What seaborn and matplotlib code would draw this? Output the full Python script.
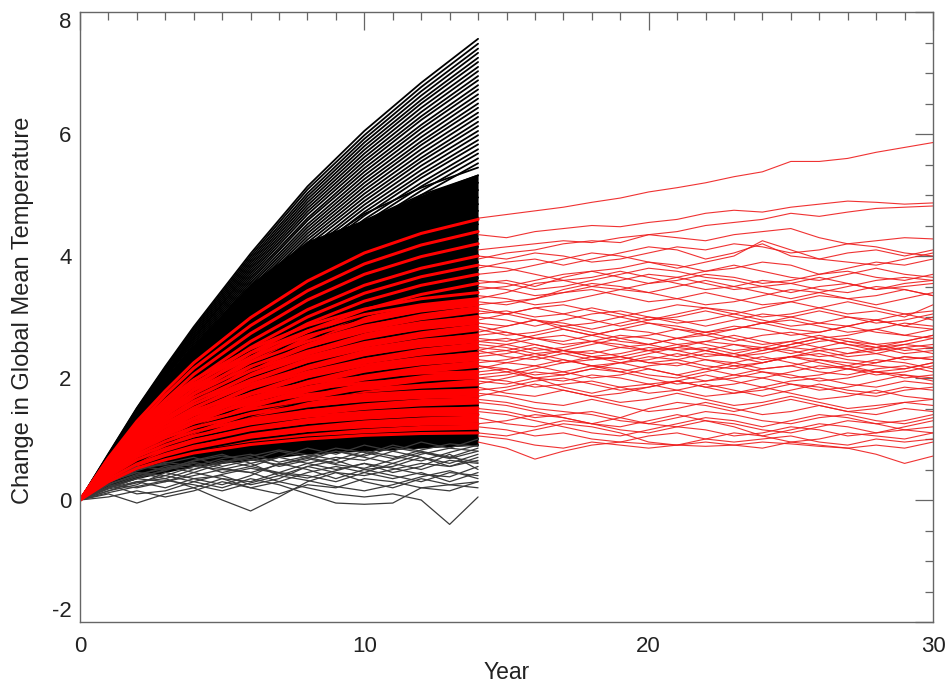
import numpy as np
import pandas as pd
import seaborn as sns
import matplotlib.pyplot as plt
from matplotlib.ticker import MultipleLocator

# years sampled for the first 14-year runs
LEFT_YEARS = [0, 1, 2, 3, 4, 6, 8, 10, 12, 14]
WIGGLE_YEARS = list(range(0, 15))
RIGHT_YEARS = list(range(14, 31))

# edges of the solid black band in the fan
black_core_upper = [0, .70, 1.38, 2.00, 2.55, 3.55, 4.25, 4.60, 5.00, 5.35]
black_core_lower = [0, .20, .35, .45, .55, .65, .75, .80, .85, .90]

# edges of the solid red band
red_core_upper = [0, .60, 1.10, 1.50, 1.85, 2.40, 2.80, 3.05, 3.20, 3.30]
red_core_lower = [0, .32, .55, .70, .82, .96, 1.05, 1.10, 1.14, 1.16]

black_smooth = [
    [0, .76, 1.51, 2.19, 2.84, 4.04, 5.14, 6.05, 6.84, 7.56],
    [0, .75, 1.50, 2.17, 2.81, 4.00, 5.09, 5.98, 6.77, 7.48],
    [0, .74, 1.48, 2.15, 2.78, 3.96, 5.03, 5.92, 6.70, 7.40],
    [0, .73, 1.47, 2.13, 2.75, 3.92, 4.98, 5.86, 6.63, 7.33],
    [0, .73, 1.45, 2.10, 2.72, 3.88, 4.93, 5.80, 6.56, 7.25],
    [0, .72, 1.44, 2.08, 2.69, 3.84, 4.88, 5.74, 6.50, 7.18],
    [0, .71, 1.42, 2.06, 2.66, 3.80, 4.83, 5.68, 6.43, 7.10],
    [0, .70, 1.41, 2.04, 2.64, 3.76, 4.78, 5.62, 6.36, 7.03],
    [0, .70, 1.39, 2.02, 2.61, 3.72, 4.73, 5.56, 6.29, 6.95],
    [0, .69, 1.38, 2.00, 2.58, 3.68, 4.68, 5.50, 6.23, 6.88],
    [0, .68, 1.36, 1.97, 2.55, 3.64, 4.62, 5.44, 6.15, 6.80],
    [0, .67, 1.35, 1.95, 2.52, 3.60, 4.58, 5.38, 6.09, 6.73],
    [0, .67, 1.33, 1.93, 2.49, 3.56, 4.52, 5.32, 6.02, 6.65],
    [0, .66, 1.32, 1.91, 2.47, 3.52, 4.47, 5.26, 5.95, 6.58],
    [0, .65, 1.30, 1.89, 2.44, 3.48, 4.42, 5.20, 5.88, 6.50],
    [0, .64, 1.29, 1.86, 2.41, 3.44, 4.37, 5.14, 5.82, 6.43],
    [0, .64, 1.27, 1.84, 2.38, 3.40, 4.32, 5.08, 5.75, 6.35],
    [0, .63, 1.26, 1.82, 2.36, 3.36, 4.27, 5.02, 5.68, 6.28],
    [0, .62, 1.24, 1.80, 2.33, 3.32, 4.22, 4.96, 5.61, 6.20],
    [0, .61, 1.23, 1.78, 2.30, 3.28, 4.17, 4.90, 5.55, 6.13],
    [0, .61, 1.21, 1.75, 2.27, 3.24, 4.11, 4.84, 5.48, 6.05],
    [0, .60, 1.20, 1.73, 2.24, 3.20, 4.07, 4.78, 5.41, 5.98],
    [0, .59, 1.18, 1.71, 2.21, 3.16, 4.01, 4.72, 5.34, 5.90],
    [0, .58, 1.17, 1.69, 2.19, 3.12, 3.96, 4.66, 5.28, 5.83],
    [0, .58, 1.15, 1.67, 2.16, 3.08, 3.91, 4.60, 5.20, 5.75],
    [0, .57, 1.14, 1.65, 2.13, 3.04, 3.86, 4.54, 5.14, 5.68],
    [0, .56, 1.12, 1.62, 2.10, 3.00, 3.81, 4.48, 5.07, 5.60],
    [0, .55, 1.10, 1.60, 2.07, 2.95, 3.75, 4.42, 5.00, 5.52],
    [0, .71, 1.36, 1.93, 2.45, 3.32, 4.06, 4.69, 5.12, 5.45],
    [0, .69, 1.33, 1.89, 2.39, 3.25, 3.96, 4.58, 5.00, 5.32],
    [0, .68, 1.30, 1.85, 2.34, 3.17, 3.87, 4.47, 4.89, 5.20],
    [0, .66, 1.27, 1.80, 2.29, 3.10, 3.78, 4.37, 4.78, 5.08],
    [0, .64, 1.24, 1.76, 2.23, 3.03, 3.70, 4.27, 4.66, 4.96],
    [0, .63, 1.21, 1.72, 2.18, 2.96, 3.61, 4.17, 4.56, 4.85],
    [0, .62, 1.19, 1.68, 2.13, 2.89, 3.53, 4.08, 4.46, 4.74],
    [0, .60, 1.16, 1.64, 2.08, 2.82, 3.45, 3.98, 4.35, 4.63],
    [0, .59, 1.13, 1.60, 2.03, 2.76, 3.37, 3.89, 4.25, 4.52],
    [0, .57, 1.10, 1.56, 1.98, 2.68, 3.28, 3.78, 4.14, 4.40],
    [0, .56, 1.07, 1.52, 1.93, 2.61, 3.19, 3.68, 4.02, 4.28],
    [0, .54, 1.04, 1.47, 1.87, 2.53, 3.09, 3.57, 3.90, 4.15],
    [0, .52, 1.01, 1.43, 1.81, 2.45, 2.99, 3.46, 3.78, 4.02],
    [0, .51, .98, 1.38, 1.76, 2.38, 2.91, 3.35, 3.67, 3.90],
    [0, .49, .94, 1.34, 1.70, 2.30, 2.81, 3.24, 3.54, 3.77],
    [0, .47, .91, 1.29, 1.64, 2.22, 2.71, 3.13, 3.42, 3.64],
    [0, .46, .88, 1.24, 1.58, 2.14, 2.61, 3.01, 3.29, 3.50],
    [0, .57, 1.04, 1.44, 1.78, 2.31, 2.71, 3.02, 3.22, 3.35],
    [0, .54, .99, 1.38, 1.70, 2.21, 2.59, 2.88, 3.07, 3.20],
    [0, .52, .95, 1.31, 1.62, 2.10, 2.47, 2.75, 2.93, 3.05],
    [0, .49, .90, 1.25, 1.54, 2.00, 2.35, 2.61, 2.78, 2.90],
    [0, .47, .85, 1.18, 1.46, 1.90, 2.23, 2.48, 2.64, 2.75],
    [0, .44, .81, 1.12, 1.38, 1.79, 2.11, 2.34, 2.50, 2.60],
    [0, .42, .76, 1.05, 1.30, 1.69, 1.98, 2.21, 2.35, 2.45],
    [0, .39, .71, .99, 1.22, 1.59, 1.86, 2.07, 2.21, 2.30],
    [0, .37, .67, .92, 1.14, 1.48, 1.74, 1.94, 2.06, 2.15],
    [0, .34, .62, .86, 1.06, 1.38, 1.62, 1.80, 1.92, 2.00],
    [0, .44, .78, 1.02, 1.20, 1.46, 1.63, 1.74, 1.81, 1.85],
    [0, .41, .71, .94, 1.11, 1.34, 1.50, 1.60, 1.67, 1.70],
    [0, .37, .65, .85, 1.01, 1.22, 1.36, 1.46, 1.52, 1.55],
    [0, .34, .59, .77, .91, 1.11, 1.23, 1.32, 1.37, 1.40],
    [0, .30, .53, .69, .81, .99, 1.10, 1.18, 1.23, 1.25],
    [0, .27, .47, .62, .73, .88, .99, 1.05, 1.10, 1.12],
    [0, .24, .42, .55, .65, .79, .88, .94, .98, 1.00],
    [0, .22, .38, .50, .59, .71, .79, .85, .88, .90],
]

# black ensemble, noisy low members
black_wiggly = [
    [0, .15, .30, .35, .20, .00, -.18, .05, .30, .45, .40, .50, .60, .55, .70],
    [0, .20, .35, .30, .40, .50, .45, .30, .20, .10, .05, .10, .00, -.40, .05],
    [0, .25, .10, .15, .30, .20, .35, .25, .10, -.05, -.07, -.05, .20, .25, .30],
    [0, .10, -.05, .10, .20, .35, .30, .45, .40, .30, .45, .60, .50, .65, .60],
    [0, .30, .45, .40, .55, .50, .60, .40, .55, .65, .50, .55, .70, .60, .75],
    [0, .25, .40, .55, .45, .60, .70, .55, .65, .80, .70, .60, .75, .85, .80],
    [0, .20, .30, .20, .35, .25, .40, .60, .50, .35, .50, .40, .30, .45, .40],
    [0, .30, .50, .60, .70, .55, .65, .80, .70, .60, .75, .90, .80, .70, .85],
    [0, .15, .25, .45, .35, .40, .25, .35, .55, .45, .30, .20, .35, .25, .20],
    [0, .35, .55, .50, .65, .75, .60, .70, .85, .75, .90, .80, .95, .85, 1.00],
    [0, .05, .15, .05, .15, .30, .20, .10, .25, .20, .35, .30, .20, .15, .30],
    [0, .30, .45, .35, .50, .65, .55, .45, .60, .70, .65, .80, .70, .55, .65],
    [0, .20, .35, .50, .60, .45, .55, .70, .60, .50, .60, .45, .55, .75, .50],
    [0, .25, .20, .30, .45, .35, .20, .30, .45, .55, .45, .35, .45, .30, .45],
    [0, .28, .48, .62, .55, .68, .75, .62, .72, .85, .78, .68, .82, .92, .88],
    [0, .22, .38, .48, .62, .52, .45, .58, .68, .58, .52, .66, .78, .70, .62],
    [0, .32, .52, .58, .50, .62, .72, .82, .74, .66, .80, .72, .64, .78, .90],
    [0, .18, .28, .40, .30, .42, .52, .44, .36, .48, .60, .52, .42, .38, .55],
    [0, .26, .42, .52, .64, .72, .66, .58, .70, .80, .72, .86, .78, .68, .80],
    [0, .12, .22, .32, .25, .15, .28, .40, .32, .22, .15, .25, .38, .48, .35],
]

# red ensemble over the first 14 years
red_left = [
    [0, .69, 1.29, 1.79, 2.25, 2.99, 3.59, 4.05, 4.37, 4.60],
    [0, .66, 1.23, 1.72, 2.16, 2.86, 3.43, 3.87, 4.18, 4.40],
    [0, .63, 1.18, 1.64, 2.06, 2.73, 3.28, 3.70, 3.99, 4.20],
    [0, .60, 1.12, 1.56, 1.96, 2.60, 3.12, 3.52, 3.80, 4.00],
    [0, .58, 1.08, 1.50, 1.89, 2.50, 3.00, 3.39, 3.66, 3.85],
    [0, .56, 1.04, 1.44, 1.81, 2.41, 2.89, 3.26, 3.52, 3.70],
    [0, .53, .99, 1.38, 1.74, 2.31, 2.77, 3.12, 3.37, 3.55],
    [0, .68, 1.22, 1.63, 1.97, 2.48, 2.86, 3.13, 3.30, 3.40],
    [0, .66, 1.19, 1.58, 1.91, 2.41, 2.77, 3.04, 3.20, 3.30],
    [0, .64, 1.15, 1.54, 1.86, 2.34, 2.69, 2.94, 3.10, 3.20],
    [0, .62, 1.12, 1.49, 1.80, 2.26, 2.60, 2.85, 3.01, 3.10],
    [0, .60, 1.08, 1.44, 1.74, 2.19, 2.52, 2.76, 2.91, 3.00],
    [0, .58, 1.04, 1.39, 1.68, 2.12, 2.44, 2.67, 2.81, 2.90],
    [0, .56, 1.01, 1.34, 1.62, 2.04, 2.35, 2.58, 2.72, 2.80],
    [0, .54, .97, 1.30, 1.57, 1.97, 2.27, 2.48, 2.62, 2.70],
    [0, .52, .94, 1.25, 1.51, 1.90, 2.18, 2.39, 2.52, 2.60],
    [0, .50, .90, 1.20, 1.45, 1.83, 2.10, 2.30, 2.43, 2.50],
    [0, .48, .86, 1.15, 1.39, 1.75, 2.02, 2.21, 2.33, 2.40],
    [0, .46, .83, 1.10, 1.33, 1.68, 1.93, 2.12, 2.23, 2.30],
    [0, .44, .79, 1.06, 1.28, 1.61, 1.85, 2.02, 2.13, 2.20],
    [0, .57, .99, 1.26, 1.47, 1.74, 1.91, 2.02, 2.08, 2.10],
    [0, .54, .94, 1.20, 1.40, 1.66, 1.82, 1.92, 1.98, 2.00],
    [0, .51, .89, 1.14, 1.33, 1.58, 1.73, 1.82, 1.88, 1.90],
    [0, .49, .85, 1.08, 1.26, 1.49, 1.64, 1.73, 1.78, 1.80],
    [0, .46, .80, 1.02, 1.19, 1.41, 1.55, 1.63, 1.68, 1.70],
    [0, .43, .75, .96, 1.12, 1.33, 1.46, 1.54, 1.58, 1.60],
    [0, .41, .71, .90, 1.05, 1.25, 1.37, 1.44, 1.49, 1.50],
    [0, .38, .66, .84, .98, 1.16, 1.27, 1.34, 1.39, 1.40],
    [0, .34, .59, .75, .88, 1.04, 1.14, 1.20, 1.24, 1.25],
    [0, .30, .52, .66, .77, .91, 1.00, 1.06, 1.09, 1.10],
]

# red ensemble continued from year 14 to 30
red_right = [
    [4.62, 4.68, 4.74, 4.80, 4.88, 4.95, 5.05, 5.12, 5.20, 5.30, 5.38, 5.55, 5.55, 5.60, 5.70, 5.78, 5.86],
    [4.35, 4.30, 4.40, 4.45, 4.50, 4.48, 4.55, 4.60, 4.70, 4.75, 4.72, 4.80, 4.85, 4.90, 4.88, 4.85, 4.87],
    [3.95, 4.05, 4.10, 4.20, 4.25, 4.22, 4.35, 4.40, 4.50, 4.55, 4.60, 4.70, 4.65, 4.72, 4.78, 4.80, 4.82],
    [4.10, 4.15, 4.20, 4.25, 4.22, 4.30, 4.35, 4.30, 4.25, 4.35, 4.40, 4.45, 4.30, 4.20, 4.25, 4.30, 4.28],
    [3.80, 3.90, 3.95, 3.85, 3.95, 4.05, 4.15, 4.10, 3.95, 4.05, 4.20, 4.00, 3.95, 4.05, 4.10, 4.00, 4.10],
    [3.70, 3.75, 3.85, 3.95, 4.05, 4.00, 3.90, 3.80, 3.90, 4.00, 4.25, 4.10, 3.95, 3.90, 3.85, 3.95, 4.05],
    [3.55, 3.60, 3.50, 3.65, 3.75, 3.80, 3.90, 3.85, 3.75, 3.80, 3.90, 3.85, 3.70, 3.80, 3.90, 3.85, 3.95],
    [3.45, 3.50, 3.60, 3.70, 3.75, 3.65, 3.55, 3.60, 3.70, 3.65, 3.55, 3.60, 3.70, 3.75, 3.65, 3.60, 3.70],
    [3.30, 3.40, 3.55, 3.60, 3.50, 3.45, 3.55, 3.65, 3.55, 3.45, 3.50, 3.40, 3.50, 3.55, 3.45, 3.55, 3.60],
    [3.20, 3.25, 3.30, 3.40, 3.45, 3.35, 3.25, 3.30, 3.40, 3.30, 3.20, 3.25, 3.35, 3.30, 3.20, 3.30, 3.40],
    [3.10, 3.05, 3.15, 3.20, 3.10, 3.00, 3.10, 3.20, 3.15, 3.05, 3.15, 3.25, 3.15, 3.05, 3.10, 3.00, 3.20],
    [3.00, 2.95, 2.85, 2.95, 3.05, 3.10, 3.00, 2.90, 2.95, 3.05, 2.95, 2.85, 2.90, 3.00, 2.95, 2.85, 3.00],
    [2.90, 2.85, 2.95, 2.80, 2.70, 2.80, 2.90, 2.85, 2.75, 2.80, 2.90, 2.95, 2.85, 2.75, 2.80, 2.90, 2.85],
    [2.80, 2.70, 2.75, 2.85, 2.75, 2.65, 2.70, 2.80, 2.70, 2.60, 2.70, 2.75, 2.65, 2.70, 2.80, 2.70, 2.65],
    [2.70, 2.75, 2.65, 2.55, 2.60, 2.70, 2.65, 2.55, 2.60, 2.70, 2.60, 2.50, 2.60, 2.65, 2.55, 2.60, 2.70],
    [2.60, 2.55, 2.45, 2.50, 2.60, 2.55, 2.45, 2.50, 2.60, 2.55, 2.45, 2.55, 2.65, 2.55, 2.45, 2.50, 2.55],
    [2.50, 2.45, 2.55, 2.45, 2.35, 2.40, 2.50, 2.45, 2.35, 2.40, 2.50, 2.45, 2.35, 2.40, 2.50, 2.40, 2.45],
    [2.45, 2.35, 2.30, 2.40, 2.45, 2.35, 2.25, 2.30, 2.40, 2.35, 2.25, 2.35, 2.40, 2.30, 2.25, 2.35, 2.30],
    [2.40, 2.45, 2.35, 2.25, 2.30, 2.35, 2.25, 2.20, 2.30, 2.25, 2.15, 2.20, 2.30, 2.25, 2.20, 2.15, 2.25],
    [2.30, 2.25, 2.20, 2.30, 2.20, 2.10, 2.20, 2.25, 2.15, 2.05, 2.15, 2.20, 2.10, 2.05, 2.15, 2.20, 2.10],
    [2.20, 2.15, 2.05, 2.10, 2.20, 2.15, 2.05, 2.00, 2.10, 2.20, 2.10, 2.00, 2.05, 2.15, 2.10, 2.00, 2.05],
    [2.10, 2.15, 2.00, 1.95, 2.05, 2.00, 1.90, 1.95, 2.05, 1.95, 1.85, 1.95, 2.00, 1.90, 1.85, 1.95, 1.90],
    [2.00, 1.95, 1.85, 1.90, 1.95, 1.85, 1.75, 1.80, 1.90, 1.80, 1.70, 1.80, 1.90, 1.80, 1.75, 1.85, 1.80],
    [1.95, 1.90, 2.00, 1.85, 1.75, 1.85, 1.90, 1.80, 1.70, 1.75, 1.85, 1.75, 1.65, 1.70, 1.80, 1.70, 1.65],
    [1.85, 1.75, 1.70, 1.80, 1.70, 1.60, 1.65, 1.75, 1.65, 1.55, 1.60, 1.70, 1.60, 1.50, 1.55, 1.60, 1.55],
    [1.75, 1.70, 1.60, 1.55, 1.65, 1.55, 1.45, 1.50, 1.60, 1.50, 1.40, 1.45, 1.55, 1.45, 1.40, 1.50, 1.45],
    [1.65, 1.60, 1.50, 1.45, 1.40, 1.30, 1.25, 1.35, 1.45, 1.40, 1.30, 1.25, 1.35, 1.40, 1.30, 1.25, 1.35],
    [1.50, 1.45, 1.35, 1.40, 1.45, 1.35, 1.25, 1.20, 1.30, 1.25, 1.15, 1.10, 1.20, 1.30, 1.25, 1.15, 1.20],
    [1.35, 1.25, 1.20, 1.30, 1.25, 1.15, 1.10, 1.20, 1.15, 1.05, 1.10, 1.20, 1.15, 1.05, 1.10, 1.15, 1.10],
    [1.20, 1.15, 1.05, 1.10, 1.00, 0.95, 1.05, 1.10, 1.00, 0.95, 1.00, 1.05, 0.95, 0.90, 1.00, 0.95, 1.00],
    [1.05, 1.00, 0.90, 0.85, 0.95, 0.90, 0.85, 0.90, 0.95, 0.90, 0.85, 0.95, 0.90, 0.85, 0.90, 0.85, 0.95],
    [0.95, 0.85, 0.67, 0.80, 0.90, 0.95, 0.92, 0.90, 0.88, 0.90, 0.95, 0.92, 0.88, 0.85, 0.75, 0.60, 0.72],
    [2.65, 2.60, 2.70, 2.80, 2.70, 2.60, 2.55, 2.65, 2.75, 2.65, 2.55, 2.60, 2.70, 2.60, 2.50, 2.55, 2.65],
    [2.35, 2.40, 2.50, 2.40, 2.30, 2.35, 2.45, 2.55, 2.45, 2.35, 2.40, 2.50, 2.45, 2.35, 2.40, 2.50, 2.40],
    [2.55, 2.50, 2.40, 2.45, 2.55, 2.65, 2.55, 2.45, 2.50, 2.40, 2.30, 2.35, 2.45, 2.50, 2.40, 2.30, 2.35],
    [2.25, 2.30, 2.40, 2.30, 2.20, 2.25, 2.35, 2.30, 2.20, 2.15, 2.25, 2.35, 2.25, 2.15, 2.25, 2.35, 2.30],
    [3.05, 3.10, 3.00, 3.05, 3.15, 3.05, 2.95, 3.00, 3.10, 3.00, 2.90, 3.00, 3.10, 3.00, 2.90, 2.95, 3.05],
    [2.05, 2.10, 2.20, 2.10, 2.00, 2.05, 2.15, 2.05, 1.95, 2.00, 2.10, 2.05, 1.95, 2.00, 2.10, 2.05, 2.00],
    [3.60, 3.55, 3.45, 3.50, 3.60, 3.70, 3.80, 3.75, 3.65, 3.60, 3.50, 3.55, 3.65, 3.55, 3.45, 3.50, 3.55],
    [1.80, 1.85, 1.95, 2.00, 1.90, 1.80, 1.85, 1.95, 1.85, 1.75, 1.80, 1.90, 1.85, 1.75, 1.70, 1.80, 1.85],
    [3.35, 3.30, 3.20, 3.25, 3.35, 3.45, 3.40, 3.30, 3.20, 3.25, 3.35, 3.45, 3.40, 3.30, 3.35, 3.45, 3.35],
    [2.95, 3.05, 3.15, 3.05, 2.95, 2.85, 2.95, 3.05, 3.15, 3.10, 3.00, 3.05, 3.15, 3.25, 3.15, 3.05, 3.10],
    [2.75, 2.85, 2.95, 2.90, 2.80, 2.90, 3.00, 2.95, 2.85, 2.95, 3.05, 3.00, 2.90, 2.85, 2.95, 3.05, 2.95],
    [2.85, 2.75, 2.65, 2.70, 2.60, 2.50, 2.55, 2.65, 2.55, 2.45, 2.50, 2.60, 2.50, 2.40, 2.45, 2.55, 2.50],
    [2.15, 2.25, 2.35, 2.45, 2.40, 2.50, 2.45, 2.35, 2.45, 2.55, 2.50, 2.40, 2.50, 2.60, 2.55, 2.45, 2.50],
    [1.90, 2.00, 2.10, 2.05, 2.15, 2.25, 2.15, 2.05, 2.15, 2.25, 2.35, 2.25, 2.15, 2.20, 2.30, 2.25, 2.15],
    [1.70, 1.80, 1.90, 1.80, 1.70, 1.75, 1.85, 1.95, 1.85, 1.90, 2.00, 1.90, 1.80, 1.85, 1.95, 2.05, 1.95],
    [1.60, 1.55, 1.45, 1.35, 1.25, 1.35, 1.50, 1.60, 1.55, 1.45, 1.55, 1.65, 1.55, 1.45, 1.50, 1.60, 1.65],
    [1.45, 1.40, 1.30, 1.20, 1.10, 1.05, 1.15, 1.25, 1.35, 1.30, 1.20, 1.30, 1.40, 1.35, 1.25, 1.30, 1.40],
    [1.25, 1.30, 1.40, 1.35, 1.25, 1.20, 1.30, 1.40, 1.30, 1.20, 1.05, 1.15, 1.25, 1.20, 1.10, 1.20, 1.30],
    [3.25, 3.20, 3.30, 3.45, 3.55, 3.50, 3.40, 3.50, 3.60, 3.50, 3.40, 3.30, 3.40, 3.50, 3.60, 3.65, 3.60],
    [3.50, 3.45, 3.35, 3.40, 3.50, 3.60, 3.70, 3.65, 3.75, 3.85, 3.75, 3.65, 3.60, 3.70, 3.80, 3.70, 3.65],
    [4.00, 3.95, 4.05, 4.00, 3.90, 3.95, 4.05, 4.15, 4.10, 4.20, 4.15, 4.05, 4.10, 4.20, 4.15, 4.05, 4.00],
    [2.45, 2.55, 2.65, 2.60, 2.70, 2.80, 2.75, 2.65, 2.70, 2.80, 2.90, 2.80, 2.75, 2.85, 2.95, 2.85, 2.80],
    [2.20, 2.10, 2.00, 2.05, 2.15, 2.10, 2.00, 1.90, 1.95, 2.05, 2.00, 2.10, 2.20, 2.15, 2.05, 2.10, 2.20],
    [2.60, 2.65, 2.55, 2.45, 2.35, 2.25, 2.30, 2.40, 2.30, 2.20, 2.25, 2.35, 2.30, 2.20, 2.10, 2.15, 2.25],
    [2.00, 2.05, 2.15, 2.25, 2.35, 2.30, 2.40, 2.50, 2.45, 2.35, 2.45, 2.55, 2.65, 2.55, 2.50, 2.60, 2.70],
    [3.15, 3.05, 2.95, 2.85, 2.90, 3.00, 2.90, 2.80, 2.75, 2.85, 2.80, 2.70, 2.75, 2.85, 2.75, 2.70, 2.80],
    [1.10, 1.05, 1.15, 1.25, 1.20, 1.10, 0.95, 0.90, 1.00, 1.10, 1.05, 0.95, 1.00, 1.10, 1.05, 1.00, 1.10],
    [3.85, 3.80, 3.70, 3.60, 3.65, 3.75, 3.65, 3.55, 3.45, 3.50, 3.60, 3.55, 3.45, 3.40, 3.50, 3.45, 3.35],
]


def to_long(runs, years):
    # stack a list of runs into one long table for seaborn
    frames = []
    for i, vals in enumerate(runs):
        frames.append(pd.DataFrame({"Year": years, "dT": vals, "run": i}))
    return pd.concat(frames, ignore_index=True)


def main():
    sns.set_style("white")
    plt.rcParams["font.family"] = ["Liberation Sans", "DejaVu Sans"]
    plt.rcParams["axes.unicode_minus"] = False

    fig = plt.figure(figsize=(9.51, 6.85), dpi=100)
    ax = fig.add_axes([80 / 951, 63 / 685, 853 / 951, 610 / 685])

    # the runs overlap so much that the middle of each fan reads as solid
    ax.fill_between(LEFT_YEARS, black_core_lower, black_core_upper, color="black", lw=0)

    kw = dict(x="Year", y="dT", units="run", estimator=None, ax=ax, legend=False)
    sns.lineplot(data=to_long(black_smooth, LEFT_YEARS), color="black", lw=1.3, **kw)
    sns.lineplot(data=to_long(black_wiggly, WIGGLE_YEARS), color="#3a3a3a", lw=0.9, **kw)
    ax.fill_between(LEFT_YEARS, red_core_lower, red_core_upper, color="#ff0000", lw=0)
    sns.lineplot(data=to_long(red_left, LEFT_YEARS), color="#ff0000", lw=2.2, **kw)
    sns.lineplot(data=to_long(red_right, RIGHT_YEARS), color="#ee1c1c", lw=0.8, alpha=0.9, **kw)

    ax.set_xlim(0, 30)
    ax.set_ylim(-2, 8)
    ax.set_xticks([0, 10, 20, 30])
    ax.set_yticks([-2, 0, 2, 4, 6, 8])
    ax.xaxis.set_minor_locator(MultipleLocator(1))
    ax.yaxis.set_minor_locator(MultipleLocator(0.5))

    # IDL look: inward ticks on all four sides
    ax.tick_params(which="both", direction="in", top=True, right=True,
                   color="#666666", width=0.9, labelsize=16, labelcolor="#222222")
    ax.tick_params(which="major", length=13)
    ax.tick_params(which="minor", length=6)
    ax.tick_params(axis="x", which="major", pad=10)
    ax.tick_params(axis="y", which="major", pad=6)
    for sp in ax.spines.values():
        sp.set_color("#666666")
        sp.set_linewidth(1.0)

    # end labels stay inside the axis range, as in the original
    ylabels = ax.get_yticklabels()
    ylabels[0].set_va("bottom")
    ylabels[-1].set_va("top")

    ax.set_xlabel("Year", fontsize=16.5, color="#222222", labelpad=3)
    ax.set_ylabel("Change in Global Mean Temperature", fontsize=17, color="#222222")
    ax.yaxis.set_label_coords(-0.054, 0.511)

    plt.savefig("out.png", dpi=100)


if __name__ == "__main__":
    main()
